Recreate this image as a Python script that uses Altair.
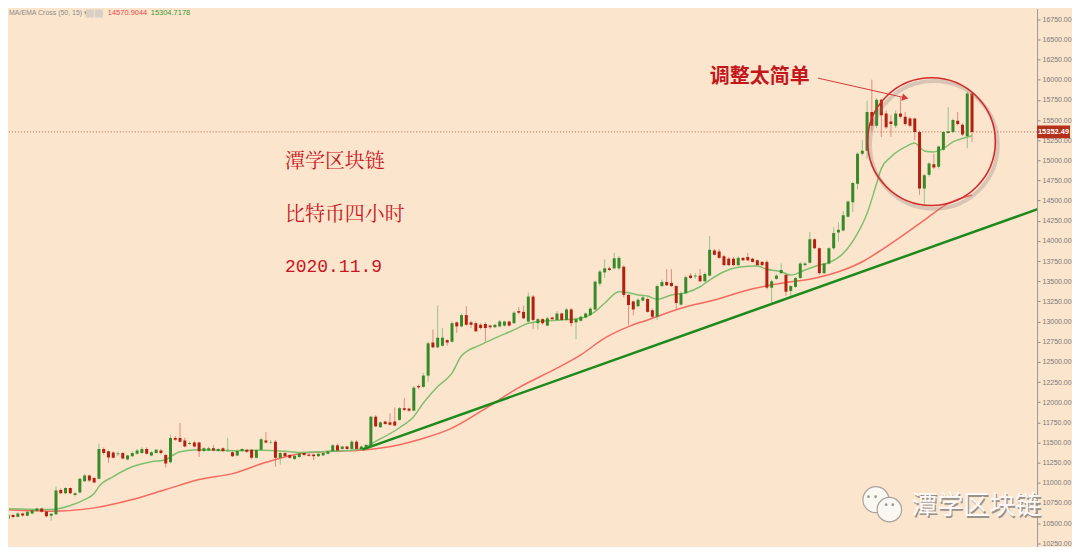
import altair as alt
import pandas as pd

# ---------------- data ----------------
opens = [10740, 10555, 10600, 10580, 10620, 10590, 10620, 10650, 10680, 10645,
         10590, 10610, 10910, 10870, 10935, 10850, 10880, 11020, 11090, 11060,
         11050, 11420, 11390, 11375, 11355, 11370, 11290, 11330, 11360, 11370,
         11420, 11340, 11370, 11400, 11345, 11255, 11555, 11555, 11525, 11480,
         11500, 11500, 11395, 11400, 11430, 11395, 11430, 11405, 11380, 11340,
         11395, 11410, 11410, 11310, 11410, 11525, 11500, 11510, 11310, 11370,
         11345, 11295, 11320, 11370, 11350, 11350, 11330, 11340, 11360, 11390,
         11465, 11420, 11450, 11420, 11510, 11415, 11440, 11450, 11820, 11690,
         11760, 11750, 11760, 11780, 11925, 11920, 11895, 12200, 12190, 12330,
         12740, 12680, 12700, 12770, 12750, 12990, 12940, 13080, 12990, 12980,
         12960, 12970, 12950, 12930, 12940, 12950, 13000, 12980, 13130, 13120,
         13000, 13310, 12980, 13030, 12950, 13050, 13020, 13100, 13020, 13150,
         12990, 13010, 13050, 13080, 13150, 13470, 13610, 13660, 13660, 13660,
         13680, 13330, 13250, 13190, 13260, 13280, 13140, 13060, 13440, 13490,
         13480, 13440, 13210, 13350, 13570, 13560, 13570, 13500, 13570, 13880,
         13870, 13810, 13780, 13780, 13700, 13790, 13800, 13780, 13760, 13740,
         13740, 13420, 13530, 13600, 13580, 13380, 13430, 13540, 13700, 13730,
         14020, 13910, 13600, 13720, 13910, 14105, 14130, 14300, 14480, 14710,
         15080, 15120, 15600, 15430, 15750, 15580, 15480, 15430, 15580, 15540,
         15520, 15520, 15350, 14650, 14820, 14950, 14920, 15130, 15340, 15350,
         15490, 15440, 15300, 15830]
closes = [10570, 10605, 10575, 10620, 10595, 10640, 10660, 10680, 10640, 10585,
          10615, 10905, 10870, 10935, 10870, 10870, 11050, 11090, 11030, 11005,
          11420, 11370, 11315, 11310, 11365, 11300, 11340, 11370, 11400, 11420,
          11360, 11380, 11410, 11370, 11240, 11555, 11535, 11510, 11450, 11495,
          11450, 11390, 11430, 11430, 11400, 11420, 11395, 11410, 11330, 11395,
          11420, 11385, 11310, 11405, 11540, 11500, 11505, 11310, 11370, 11330,
          11310, 11335, 11365, 11345, 11335, 11330, 11360, 11370, 11390, 11465,
          11400, 11450, 11420, 11510, 11420, 11450, 11470, 11820, 11700, 11750,
          11730, 11720, 11710, 11925, 11905, 11895, 12180, 12185, 12330, 12730,
          12680, 12800, 12800, 12740, 12980, 12940, 13080, 12960, 12960, 12880,
          12920, 12920, 12930, 12960, 13000, 13000, 12950, 13110, 13110, 13040,
          13310, 13020, 13030, 12980, 13040, 13030, 13100, 13020, 13150, 12980,
          13030, 13060, 13100, 13160, 13495, 13620, 13660, 13640, 13785, 13790,
          13330, 13205, 13150, 13270, 13300, 13120, 13060, 13440, 13490, 13450,
          13440, 13230, 13350, 13550, 13540, 13570, 13500, 13590, 13890, 13830,
          13790, 13700, 13700, 13700, 13790, 13760, 13760, 13740, 13700, 13700,
          13420, 13500, 13570, 13640, 13370, 13440, 13540, 13720, 13720, 14020,
          13910, 13600, 13720, 13910, 14100, 14140, 14320, 14490, 14720, 15080,
          15120, 15600, 15430, 15750, 15560, 15410, 15450, 15580, 15540, 15450,
          15430, 15350, 14650, 14815, 14960, 14910, 15170, 15350, 15360, 15500,
          15450, 15320, 15830, 15352.49]
highs = [10750, 10620, 10610, 10635, 10630, 10650, 10680, 10690, 10690, 10650,
         10625, 10955, 10930, 10945, 10940, 10880, 11060, 11110, 11100, 11070,
         11485, 11440, 11400, 11390, 11390, 11380, 11350, 11390, 11420, 11440,
         11440, 11390, 11420, 11420, 11360, 11597, 11580, 11740, 11560, 11510,
         11520, 11510, 11440, 11450, 11470, 11430, 11440, 11560, 11395, 11410,
         11430, 11420, 11420, 11420, 11560, 11630, 11530, 11530, 11380, 11380,
         11355, 11345, 11380, 11380, 11360, 11360, 11370, 11380, 11400, 11480,
         11490, 11460, 11460, 11530, 11530, 11460, 11480, 11830, 11840, 11760,
         11770, 11860, 11935, 11940, 12050, 11930, 12200, 12220, 12360, 12750,
         12900, 13200, 12920, 12780, 13000, 13000, 13100, 13190, 13010, 13000,
         12980, 12990, 12960, 12970, 13020, 13010, 13010, 13130, 13180, 13200,
         13360, 13330, 13040, 13040, 13060, 13060, 13130, 13110, 13170, 13170,
         13050, 13070, 13110, 13180, 13510, 13640, 13770, 13680, 13853, 13810,
         13700, 13340, 13260, 13290, 13320, 13300, 13160, 13460, 13520, 13650,
         13650, 13450, 13370, 13570, 13600, 13600, 13650, 13610, 14060, 13900,
         13900, 13830, 13800, 13800, 13810, 13800, 13850, 13790, 13770, 13750,
         13760, 13520, 13590, 13720, 13600, 13450, 13550, 13740, 13740, 14110,
         14030, 13920, 13730, 13920, 14170, 14230, 14370, 14500, 14730, 15100,
         15250, 15740, 16000, 15770, 15760, 15620, 15560, 15620, 15780, 15600,
         15540, 15530, 15370, 14830, 14980, 15080, 15180, 15360, 15660, 15520,
         15600, 15460, 15850, 15850]
lows = [10545, 10530, 10560, 10570, 10580, 10585, 10610, 10640, 10630, 10570,
        10530, 10600, 10860, 10860, 10860, 10830, 10870, 11010, 11010, 10995,
        11040, 11350, 11250, 11300, 11330, 11290, 11280, 11320, 11350, 11360,
        11350, 11330, 11360, 11350, 11190, 11240, 11520, 11500, 11440, 11470,
        11440, 11320, 11380, 11390, 11390, 11390, 11380, 11380, 11320, 11330,
        11380, 11370, 11290, 11300, 11400, 11490, 11480, 11200, 11225, 11320,
        11300, 11280, 11310, 11330, 11325, 11280, 11320, 11330, 11350, 11380,
        11390, 11410, 11410, 11410, 11410, 11405, 11430, 11440, 11690, 11680,
        11720, 11710, 11700, 11770, 11890, 11880, 11885, 12160, 12180, 12255,
        12670, 12670, 12690, 12700, 12740, 12860, 12930, 12950, 12920, 12870,
        12900, 12750, 12910, 12920, 12930, 12940, 12940, 12970, 13090, 13030,
        12990, 12905, 12900, 12960, 12940, 13010, 13010, 13010, 13010, 12940,
        12780, 13000, 13040, 13070, 13140, 13440, 13540, 13630, 13650, 13640,
        13300, 12960, 13080, 13180, 13250, 13110, 13040, 13020, 13430, 13440,
        13430, 13150, 13200, 13340, 13530, 13530, 13490, 13490, 13560, 13820,
        13780, 13690, 13690, 13690, 13690, 13750, 13750, 13730, 13690, 13690,
        13400, 13230, 13520, 13590, 13320, 13310, 13420, 13530, 13690, 13720,
        13900, 13580, 13590, 13710, 13890, 13990, 14120, 14290, 14360, 14640,
        15060, 15020, 15370, 15400, 15290, 15390, 15290, 15400, 15520, 15430,
        15410, 15250, 14570, 14440, 14800, 14890, 14900, 15120, 15330, 15340,
        15430, 15300, 15150, 15230]

# EMA(15): candle index / value
ema_idx = [0, 10, 14, 17, 19, 20, 23, 27, 31, 34, 35, 37, 41, 48, 54, 59, 62, 69,
           75, 78, 83, 86, 88, 91, 94, 96, 100, 103, 107, 110, 112, 117, 121, 124,
           126, 129, 131, 133, 135, 137, 140, 143, 146, 148, 151, 154, 158, 160,
           163, 165, 168, 171, 173, 176, 179, 181, 183, 184, 186, 189, 191, 192,
           193, 195, 197, 199, 201, 203]
ema_val = [10680, 10668, 10718, 10792, 10866, 10953, 11077, 11200, 11262, 11287,
           11324, 11386, 11411, 11399, 11403, 11390, 11377, 11390, 11420, 11514,
           11683, 11823, 11989, 12194, 12360, 12575, 12711, 12794, 12897, 12979,
           12999, 13020, 13041, 13123, 13227, 13370, 13358, 13330, 13317, 13276,
           13330, 13358, 13432, 13515, 13618, 13673, 13689, 13648, 13618, 13577,
           13639, 13701, 13730, 13846, 14094, 14341, 14713, 14900, 15042, 15166,
           15215, 15166, 15116, 15104, 15146, 15228, 15270, 15304.7178]

# MA(50)
ma_idx = [0, 10, 19, 27, 34, 41, 48, 55, 62, 69, 76, 83, 87, 94, 100, 108, 116,
          121, 126, 131, 135, 142, 149, 156, 163, 170, 175, 180, 184, 188, 193,
          198, 203]
ma_val = [10668, 10647, 10689, 10792, 10916, 11040, 11114, 11254, 11361, 11390,
          11411, 11473, 11535, 11679, 11885, 12180, 12422, 12587, 12794, 12937,
          13020, 13165, 13268, 13392, 13475, 13536, 13618, 13742, 13887, 14048,
          14258, 14465, 14570.9044]

# hand-drawn trend line (start / end)
trend_idx = [75.2, 218.5]
trend_val = [11411, 14431]

last_price = 15352.49
y_ticks = [10250, 10500, 10750, 11000, 11250, 11500, 11750, 12000, 12250, 12500,
           12750, 13000, 13250, 13500, 13750, 14000, 14250, 14500, 14750, 15000,
           15250, 15500, 15750, 16000, 16250, 16500, 16750]

# ---------------- chart ----------------
W, H = 1030, 539
PX = 4.78                      # pixels per candle
xs = alt.Scale(domain=[1.15, 1.15 + W / PX], nice=False, zero=False)
ys = alt.Scale(domain=[10210, 16883], nice=False, zero=False)

candles = pd.DataFrame({"i": list(range(len(opens))), "open": opens, "high": highs,
                        "low": lows, "close": closes})
ema_df = pd.DataFrame({"i": ema_idx, "p": ema_val})
ma_df = pd.DataFrame({"i": ma_idx, "p": ma_val})
trend_df = pd.DataFrame({"i": trend_idx, "p": trend_val})
last_df = pd.DataFrame({"p": [last_price], "hi": [last_price + 80], "lo": [last_price - 80],
                        "t": ["15352.49"]})

yaxis = alt.Axis(orient="right", values=y_ticks, format=".2f", labelFontSize=7,
                 labelFont="Liberation Sans", labelColor="#7a7a7a", tickColor="#8a8a8a",
                 tickSize=3, domainColor="#9a9a9a", grid=False, labelPadding=2,
                 labelOverlap=False, title=None)

X = alt.X("i:Q", scale=xs, axis=None)


def Y(field):
    return alt.Y(field, scale=ys, axis=yaxis)


up = "datum.close >= datum.open"

wicks = alt.Chart(candles).mark_rule(strokeWidth=1, clip=True).encode(
    x=X, y=Y("low:Q"), y2="high:Q",
    color=alt.condition(up, alt.value("#93c48a"), alt.value("#e38c80")),
)
bodies = alt.Chart(candles).mark_rule(strokeWidth=3, clip=True).encode(
    x=X, y=Y("open:Q"), y2="close:Q",
    color=alt.condition(up, alt.value("#378a28"), alt.value("#b3200f")),
)

ma_line = alt.Chart(ma_df).mark_line(color="#f46a60", strokeWidth=1.5, interpolate="monotone",
                                     clip=True).encode(x=X, y=Y("p:Q"))
ema_line = alt.Chart(ema_df).mark_line(color="#7fbf70", strokeWidth=1.5, interpolate="monotone",
                                       clip=True).encode(x=X, y=Y("p:Q"))
trend = alt.Chart(trend_df).mark_line(color="#1e8a1e", strokeWidth=2.5, clip=True).encode(
    x=X, y=Y("p:Q"))

pline = alt.Chart(last_df).mark_rule(color="#c0604c", strokeDash=[1, 2], strokeWidth=1).encode(
    y=Y("p:Q"))
pbox = alt.Chart(last_df).mark_rect(color="#b3311b").encode(
    x=alt.value(W), x2=alt.value(W + 33), y=Y("hi:Q"), y2="lo:Q")
ptext = alt.Chart(last_df).mark_text(color="white", fontSize=7.5, fontWeight="bold",
                                     font="Liberation Sans", align="center",
                                     baseline="middle").encode(
    x=alt.value(W + 16.5), y=Y("p:Q"), text="t:N")

# annotation circle (with soft shadow) and arrow
circ_df = pd.DataFrame({"i": [194.5], "p": [15232]})
shadow_df = pd.DataFrame({"i": [195.0], "p": [15190]})
shadow = alt.Chart(shadow_df).mark_point(shape="circle", filled=False, size=16384,
                                         strokeWidth=4, color="#8c7f78", opacity=0.3).encode(
    x=X, y=Y("p:Q"))
circle = alt.Chart(circ_df).mark_point(shape="circle", filled=False, size=16384,
                                       strokeWidth=1.6, color="#d22a2a", opacity=1).encode(
    x=X, y=Y("p:Q"))

arrow_df = pd.DataFrame({"i": [170.7], "p": [16020], "i2": [189.2], "p2": [15772]})
arrow = alt.Chart(arrow_df).mark_rule(color="#d43a3a", strokeWidth=1).encode(
    x=X, x2="i2:Q", y=Y("p:Q"), y2="p2:Q")
head_df = pd.DataFrame({"i": [189.0], "p": [15775]})
head = alt.Chart(head_df).mark_point(shape="triangle-right", filled=True, size=55, angle=13,
                                     color="#d43a3a", opacity=1).encode(x=X, y=Y("p:Q"))

serif_cjk = "Noto Serif CJK SC, Noto Serif SC, Noto Sans CJK SC, serif"
red_txt = "#c8161e"


def note(i, p, t, **kw):
    df = pd.DataFrame({"i": [i], "p": [p], "t": [t]})
    return alt.Chart(df).mark_text(**kw).encode(x=X, y=Y("p:Q"), text="t:N")


n1 = note(158.5, 16028, "调整太简单", font="Noto Sans CJK SC", fontSize=20, fontWeight="bold",
          color="#c4171c", align="center", baseline="middle")
n2 = note(59.0, 14976, "潭学区块链", font=serif_cjk, fontSize=20, color=red_txt,
          align="left", baseline="middle")
n3 = note(59.0, 14320, "比特币四小时", font=serif_cjk, fontSize=20, color=red_txt,
          align="left", baseline="middle")
n4 = note(59.0, 13676, "2020.11.9", font="Liberation Mono", fontSize=18, color=red_txt,
          align="left", baseline="middle")

# watermark (WeChat-like bubbles + name)
bub_df = pd.DataFrame({"i": [182.85, 185.67], "p": [10791, 10667], "s": [676, 600]})
bubbles = alt.Chart(bub_df).mark_point(shape="circle", filled=True, fill="#fbf8f4",
                                       stroke="#a9a29c", strokeWidth=1.2, opacity=1).encode(
    x=X, y=Y("p:Q"), size=alt.Size("s:Q", scale=None, legend=None))
eye_df = pd.DataFrame({"i": [181.3, 182.8, 185.0, 186.4], "p": [10828, 10828, 10729, 10729]})
eyes = alt.Chart(eye_df).mark_point(shape="circle", filled=True, size=7, color="#9a938d",
                                    opacity=1).encode(x=X, y=Y("p:Q"))
wm_shadow = note(190.3, 10706, "潭学区块链", font="Noto Sans CJK SC", fontSize=26,
                 color="#9a928c", align="left", baseline="middle", dx=1.2, dy=1.2)
wm = note(190.3, 10706, "潭学区块链", font="Noto Sans CJK SC", fontSize=26,
          color="#fbfaf8", align="left", baseline="middle")

# indicator header (top-left)
hdr_df = pd.DataFrame({"a": [0]})
hdr = alt.Chart(hdr_df).mark_text(text="MA/EMA Cross (50, 15) ▾", font="Liberation Sans",
                                  fontSize=7, color="#8c8c8c", align="left",
                                  baseline="top").encode(x=alt.value(0), y=alt.value(1))
icon1 = alt.Chart(hdr_df).mark_point(shape="square", filled=True, size=64, color="#d9cfc4",
                                     opacity=1).encode(x=alt.value(81), y=alt.value(5))
icon2 = alt.Chart(hdr_df).mark_point(shape="square", filled=True, size=64, color="#d9cfc4",
                                     opacity=1).encode(x=alt.value(90), y=alt.value(5))
hdr_ma = alt.Chart(hdr_df).mark_text(text="14570.9044", font="Liberation Sans", fontSize=7.5,
                                     color="#e64b45", align="left", baseline="top").encode(
    x=alt.value(99), y=alt.value(1))
hdr_ema = alt.Chart(hdr_df).mark_text(text="15304.7178", font="Liberation Sans", fontSize=7.5,
                                      color="#3c9a34", align="left", baseline="top").encode(
    x=alt.value(142), y=alt.value(1))

chart = alt.layer(
    wicks, pline, ma_line, ema_line, trend, bodies, shadow, circle, arrow, head,
    n1, n2, n3, n4, bubbles, eyes, wm_shadow, wm, pbox, ptext,
    hdr, icon1, icon2, hdr_ma, hdr_ema,
).properties(
    width=W, height=H, background="#fce5cd", padding=0
).configure_view(stroke=None)

chart.save("out.html", embed_options={"renderer": "svg", "actions": False})
